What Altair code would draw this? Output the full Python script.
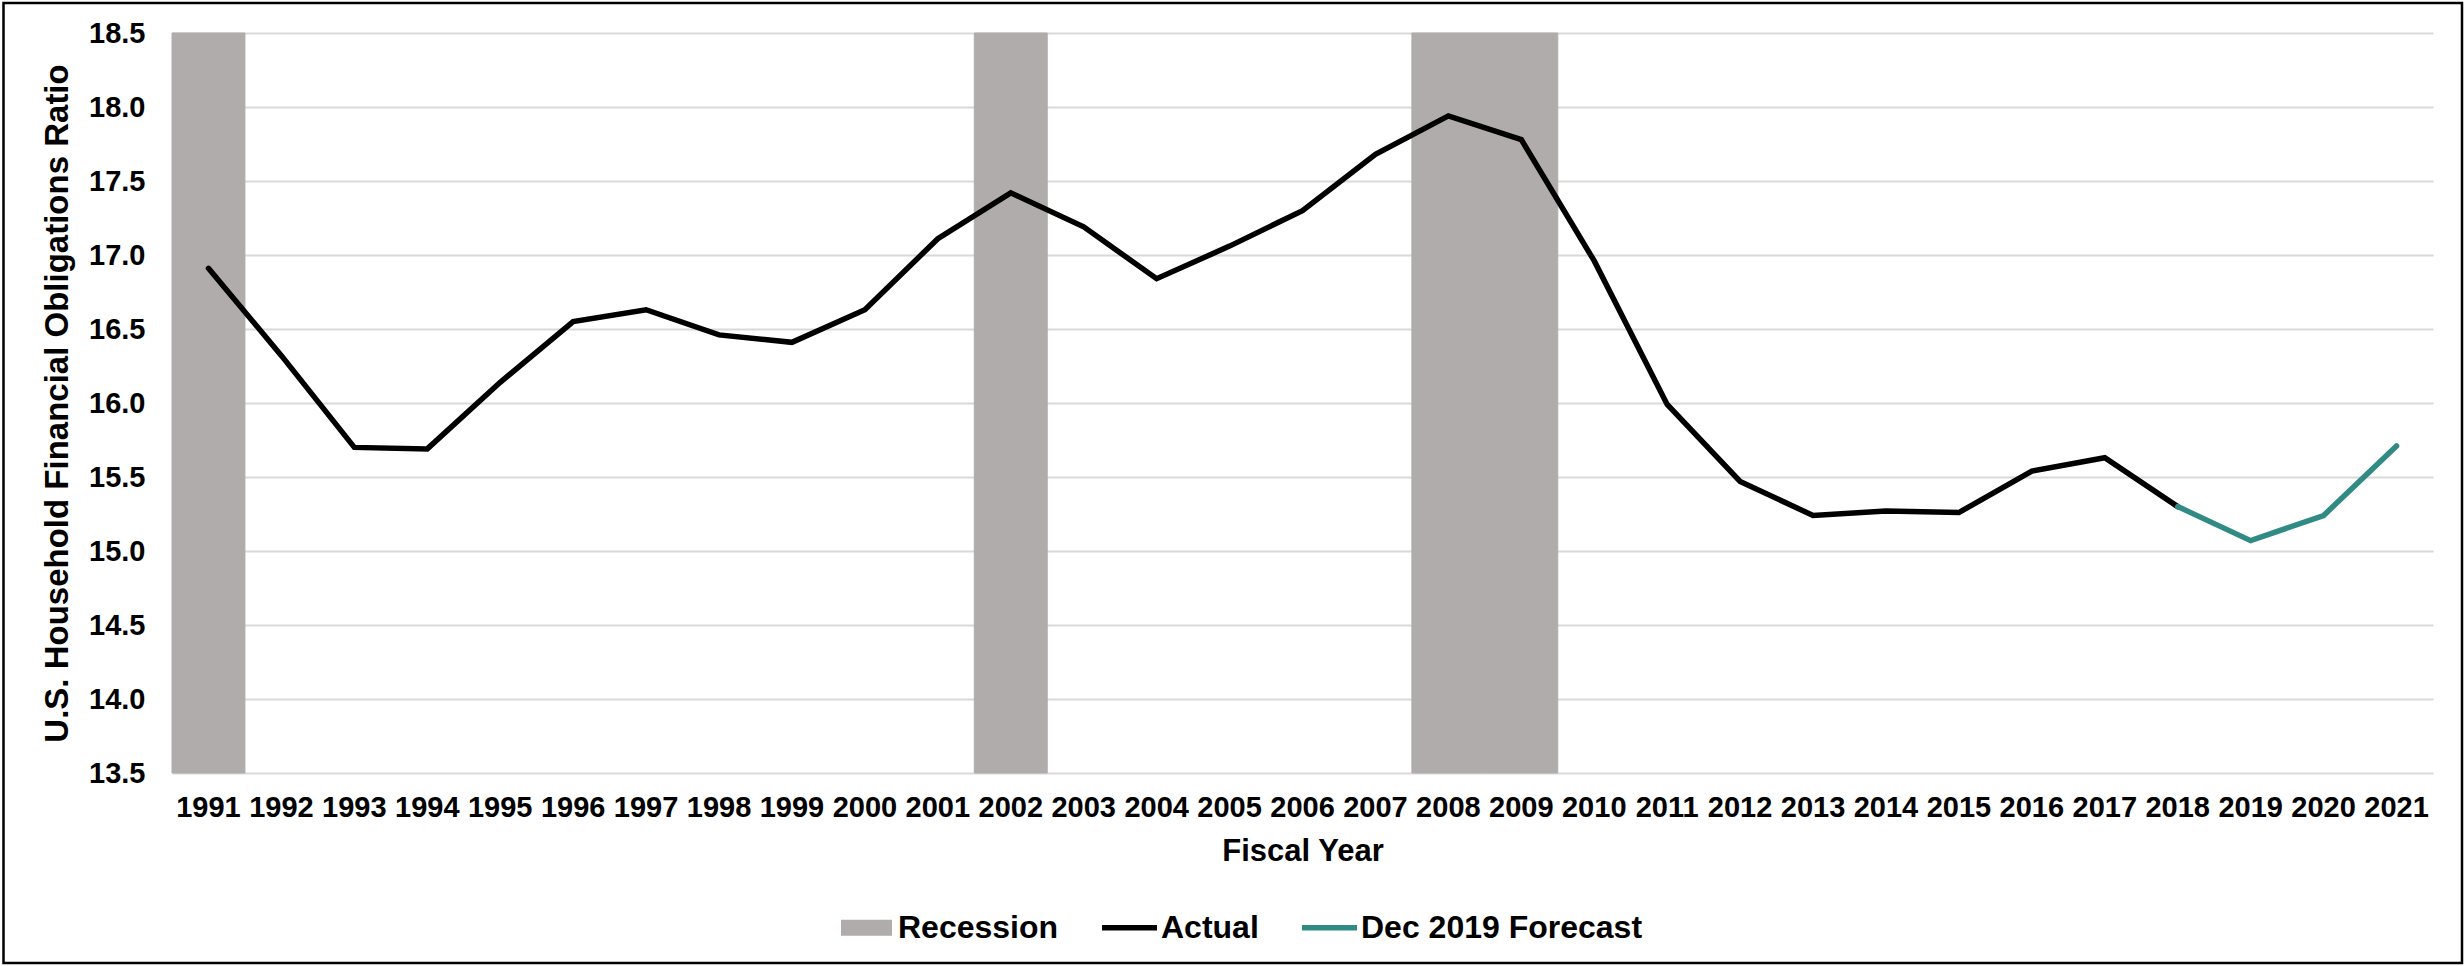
import altair as alt
import pandas as pd

# ---------------- data ----------------
years = ["1991", "1992", "1993", "1994", "1995", "1996", "1997", "1998", "1999", "2000",
         "2001", "2002", "2003", "2004", "2005", "2006", "2007", "2008", "2009", "2010",
         "2011", "2012", "2013", "2014", "2015", "2016", "2017", "2018", "2019", "2020", "2021"]

actual_years = ["1991", "1992", "1993", "1994", "1995", "1996", "1997", "1998", "1999", "2000",
                "2001", "2002", "2003", "2004", "2005", "2006", "2007", "2008", "2009", "2010",
                "2011", "2012", "2013", "2014", "2015", "2016", "2017", "2018"]
actual_values = [16.91, 16.32, 15.70, 15.69, 16.14, 16.55, 16.63, 16.46, 16.41, 16.63,
                 17.11, 17.42, 17.19, 16.84, 17.06, 17.30, 17.68, 17.94, 17.78, 16.96,
                 15.99, 15.47, 15.24, 15.27, 15.26, 15.54, 15.63, 15.30]

forecast_years = ["2018", "2019", "2020", "2021"]
forecast_values = [15.30, 15.07, 15.24, 15.71]

recession_years = ["1991", "2002", "2008", "2009"]
recession_tops = [18.5, 18.5, 18.5, 18.5]

y_ticks = [13.5, 14.0, 14.5, 15.0, 15.5, 16.0, 16.5, 17.0, 17.5, 18.0, 18.5]

legend_labels = ["Recession", "Actual", "Dec 2019 Forecast"]
legend_colors = ["#AFACAB", "#000000", "#2F8B84"]
legend_shapes = ["M-0.927,-0.291H0.927V0.291H-0.927Z",
                 "M-1,-0.1H1V0.1H-1Z",
                 "M-1,-0.1H1V0.1H-1Z"]

FONT = "Liberation Sans"
W, H = 2261, 740

actual_df = pd.DataFrame({"year": actual_years, "value": actual_values})
forecast_df = pd.DataFrame({"year": forecast_years, "value": forecast_values})
recession_df = pd.DataFrame({"year": recession_years, "top": recession_tops})
legend_df = pd.DataFrame({"series": legend_labels})

x_scale = alt.Scale(domain=years, paddingInner=0, paddingOuter=0)
y_scale = alt.Scale(domain=[13.5, 18.5], zero=False, nice=False)

x_enc = alt.X("year:O", scale=x_scale,
              axis=alt.Axis(title="Fiscal Year", labelAngle=0, ticks=False, tickSize=0,
                            domain=False, grid=False, labelPadding=20, titlePadding=14,
                            labelFontSize=29, titleFontSize=31))

y_axis = alt.Axis(title="U.S. Household Financial Obligations Ratio", values=y_ticks,
                  format=".1f", ticks=False, tickSize=0, domain=False, grid=True,
                  gridColor="#D9D9D9", gridWidth=2, labelPadding=27, titlePadding=14,
                  labelFontSize=29, titleFontSize=33)

recession = alt.Chart(recession_df).mark_bar(
    color="#AFACAB", stroke="#AFACAB", strokeWidth=1
).encode(
    x=x_enc,
    y=alt.Y("top:Q", scale=y_scale, axis=y_axis),
    y2=alt.datum(13.5),
)

actual_line = alt.Chart(actual_df).mark_line(color="#000000", strokeWidth=5.5, strokeCap="round").encode(
    x=alt.X("year:O", scale=x_scale),
    y=alt.Y("value:Q", scale=y_scale),
)

forecast_line = alt.Chart(forecast_df).mark_line(color="#2F8B84", strokeWidth=5.5, strokeCap="round").encode(
    x=alt.X("year:O", scale=x_scale),
    y=alt.Y("value:Q", scale=y_scale),
)

legend_kw = dict(title=None, orient="none", legendX=667, legendY=867, direction="horizontal")

legend_layer = alt.Chart(legend_df).transform_filter("false").mark_point(filled=True, opacity=1).encode(
    color=alt.Color("series:N", scale=alt.Scale(domain=legend_labels, range=legend_colors),
                    legend=alt.Legend(**legend_kw)),
    shape=alt.Shape("series:N", scale=alt.Scale(domain=legend_labels, range=legend_shapes),
                    legend=alt.Legend(**legend_kw)),
)

border = alt.Chart(alt.Data(values=[{"b": 1}])).mark_rect(
    fillOpacity=0, stroke="#000000", strokeWidth=2.5
).encode(
    x=alt.value(-168.5), x2=alt.value(W + 29), y=alt.value(-30), y2=alt.value(H + 190)
)

chart = alt.layer(recession, actual_line, forecast_line, legend_layer, border).properties(
    width=W, height=H,
    autosize=alt.AutoSizeParams(type="none"),
    padding={"left": 172, "top": 33, "right": 31, "bottom": 193},
    background="white",
).configure_view(stroke=None).configure_axis(
    labelFont=FONT, titleFont=FONT, labelFontWeight="bold", titleFontWeight="bold",
    labelColor="#000000", titleColor="#000000",
).configure_legend(
    labelFont=FONT, labelFontSize=32, labelFontWeight="bold", labelColor="#000000",
    symbolSize=3025, symbolStrokeWidth=0, symbolOpacity=1, labelOffset=4,
    columnPadding=43, padding=0, symbolLimit=0, labelLimit=0,
)

chart.save("out.html", embed_options={"renderer": "svg", "actions": False})
